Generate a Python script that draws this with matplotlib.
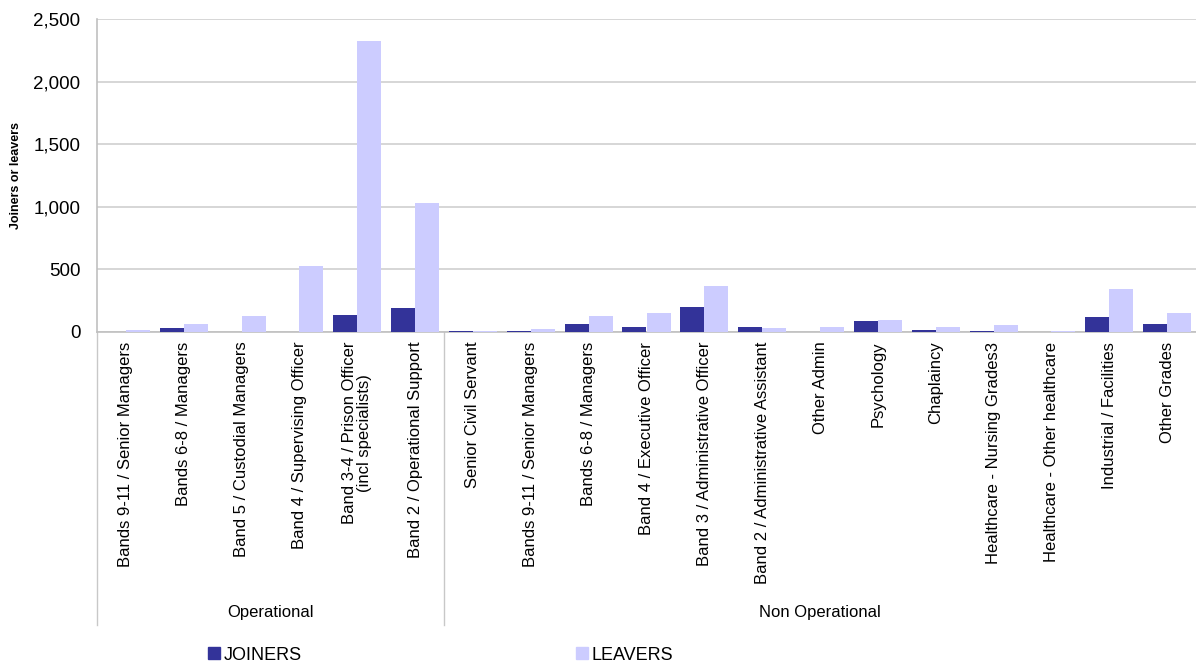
import matplotlib.pyplot as plt
import matplotlib.transforms as mtransforms
from matplotlib.patches import Patch
from matplotlib.ticker import FuncFormatter, MultipleLocator

plt.rcParams['font.family'] = ['Liberation Sans', 'DejaVu Sans']

categories = [
    'Bands 9-11 / Senior Managers',
    'Bands 6-8 / Managers',
    'Band 5 / Custodial Managers',
    'Band 4 / Supervising Officer',
    'Band 3-4 / Prison Officer\n(incl specialists)',
    'Band 2 / Operational Support',
    'Senior Civil Servant',
    'Bands 9-11 / Senior Managers',
    'Bands 6-8 / Managers',
    'Band 4 / Executive Officer',
    'Band 3 / Administrative Officer',
    'Band 2 / Administrative Assistant',
    'Other Admin',
    'Psychology',
    'Chaplaincy',
    'Healthcare - Nursing Grades3',
    'Healthcare - Other healthcare',
    'Industrial / Facilities',
    'Other Grades',
]
groups = ['Operational', 'Non Operational']
group_sizes = [6, 13]

joiners = [0, 35, 0, 0, 138, 194, 8, 8, 64, 40, 200, 40, 0, 88, 16, 8, 0, 120, 64]
leavers = [19, 66, 130, 529, 2324, 1032, 8, 24, 128, 152, 367, 32, 40, 96, 40, 56, 8, 343, 152]

fig = plt.figure(figsize=(11.96, 6.66), dpi=100)
ax = fig.add_axes([97 / 1196, 1 - 332 / 666, 1 - 97 / 1196, 313 / 666])

x = list(range(len(categories)))
w = 0.415
ax.bar([i - w / 2 for i in x], joiners, width=w, color='#333399', zorder=3)
ax.bar([i + w / 2 for i in x], leavers, width=w, color='#CCCCFF', zorder=3)

ax.set_xlim(-0.5, len(categories) - 0.5)
ax.set_ylim(0, 2500)
ax.yaxis.set_major_locator(MultipleLocator(500))
ax.yaxis.set_major_formatter(FuncFormatter(lambda v, p: f'{v:,.0f}'))
ax.grid(axis='y', color='#D0D0D0', linewidth=1.2, zorder=0)
ax.tick_params(axis='y', length=0, pad=12, labelsize=13.5)
ax.tick_params(axis='x', length=0, pad=7)

ax.set_xticks(x)
ax.set_xticklabels(categories, rotation=90, fontsize=12, va='top', ha='center',
                   linespacing=1.0)

for side in ['top', 'right']:
    ax.spines[side].set_visible(False)
for side in ['left', 'bottom']:
    ax.spines[side].set_color('#C0C0C0')
    ax.spines[side].set_linewidth(1.2)

ax.set_ylabel('Joiners or leavers', fontsize=9, fontweight='bold')
ax.yaxis.set_label_coords(-0.068, 0.5)

# group separators and group names under the category labels
trans = mtransforms.blended_transform_factory(ax.transData, ax.transAxes)
start = -0.5
for name, size in zip(groups, group_sizes):
    ax.plot([start, start], [0, -0.936], transform=trans, color='#C8C8C8',
            linewidth=1, clip_on=False)
    ax.text(start + size / 2, -0.895, name, transform=trans, ha='center',
            va='center', fontsize=12)
    start += size

handles = [Patch(color='#333399'), Patch(color='#CCCCFF')]
fig.legend(handles, ['JOINERS', 'LEAVERS'], ncol=2, loc='center left',
           bbox_to_anchor=(199 / 1196, 1 - 655 / 666), frameon=False,
           fontsize=13, handlelength=0.65, handleheight=0.65,
           handletextpad=0.2, columnspacing=15.2, borderpad=0)

fig.savefig('out.png', dpi=100)
